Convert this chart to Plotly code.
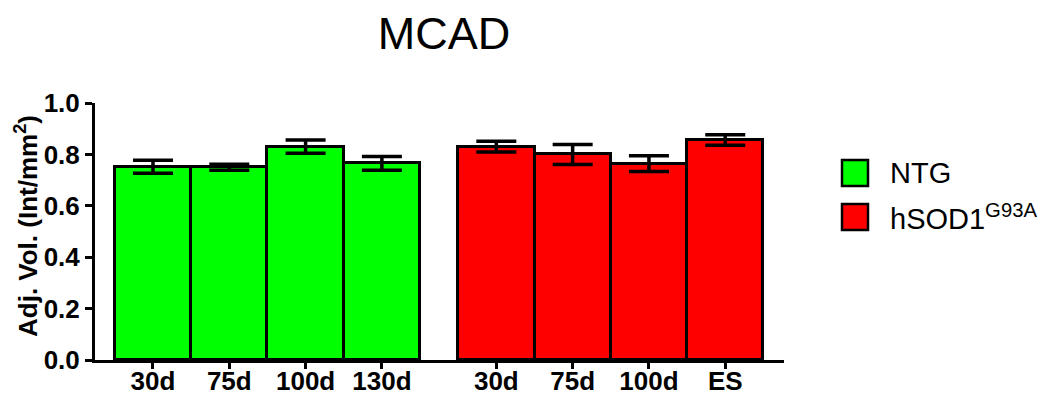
import plotly.graph_objects as go

categories = ["30d", "75d", "100d", "130d", "30d", "75d", "100d", "ES"]
positions = [0, 1, 2, 3, 4.5, 5.5, 6.5, 7.5]
ntg_values = [0.752, 0.750, 0.830, 0.765]
ntg_errors = [0.025, 0.012, 0.026, 0.027]
sod_values = [0.830, 0.800, 0.764, 0.856]
sod_errors = [0.021, 0.039, 0.031, 0.020]
series_names = ["NTG", "hSOD1<sup>G93A</sup>"]
colors = ["#00FF00", "#FF0000"]
y_title = "Adj. Vol. (Int/mm<sup>2</sup>)"

fig = go.Figure()
groups = [(positions[:4], ntg_values, ntg_errors), (positions[4:], sod_values, sod_errors)]
for (xs, ys, es), name, col in zip(groups, series_names, colors):
    fig.add_trace(go.Bar(
        x=xs, y=ys, width=1.0, name=name, showlegend=False,
        marker=dict(color=col, line=dict(color="black", width=3)),
        error_y=dict(type="data", array=es, visible=True, color="black",
                     thickness=3.5, width=20),
    ))

L, R, T, B = 95, 264, 103, 37
W, H = 1048, 397
pw = W - L - R
ph = H - T - B

def px_x(p):
    return (p - L) / pw

def px_y(p):
    return (H - B - p) / ph

# legend drawn as shapes + text
leg_rows = [173, 217]
for yc, name, col in zip(leg_rows, series_names, colors):
    fig.add_shape(type="rect", xref="paper", yref="paper",
                  x0=px_x(842), x1=px_x(868), y0=px_y(yc + 13), y1=px_y(yc - 13),
                  fillcolor=col, line=dict(color="black", width=2.5))
    fig.add_annotation(xref="paper", yref="paper", x=px_x(888), y=px_y(yc),
                       xanchor="left", yanchor="middle", text=name, showarrow=False,
                       font=dict(family="Liberation Sans, Arial", size=29, color="black"))

# y-axis title as rotated annotation
fig.add_annotation(xref="paper", yref="paper", x=px_x(26), y=px_y(226),
                   xanchor="center", yanchor="middle", textangle=-90,
                   text=y_title, showarrow=False,
                   font=dict(family="Liberation Sans, Arial", size=26, color="black", weight="bold"))

fig.update_layout(
    width=W, height=H,
    margin=dict(l=L, r=R, t=T, b=B, autoexpand=False),
    paper_bgcolor="white", plot_bgcolor="white",
    bargap=0,
    title=dict(text="MCAD", x=px_x(444), xref="paper", xanchor="center",
               y=1 - 33 / H, yref="container", yanchor="middle",
               font=dict(family="Liberation Sans, Arial", size=45, color="black")),
    xaxis=dict(range=[-0.76, 8.27], tickvals=positions, ticktext=categories,
               automargin=False,
               showline=True, linecolor="black", linewidth=3,
               ticks="outside", ticklen=6, tickwidth=3, tickcolor="black",
               ticklabelstandoff=-10,
               showgrid=False, zeroline=False,
               tickfont=dict(family="Liberation Sans, Arial", size=26, color="black", weight="bold")),
    yaxis=dict(range=[0, 1.0], tickvals=[0, 0.2, 0.4, 0.6, 0.8, 1.0], tickformat=".1f",
               automargin=False,
               showline=True, linecolor="black", linewidth=3,
               ticks="outside", ticklen=7, tickwidth=3, tickcolor="black",
               showgrid=False, zeroline=False,
               tickfont=dict(family="Liberation Sans, Arial", size=26, color="black", weight="bold")),
)

fig.write_html("out.html")
